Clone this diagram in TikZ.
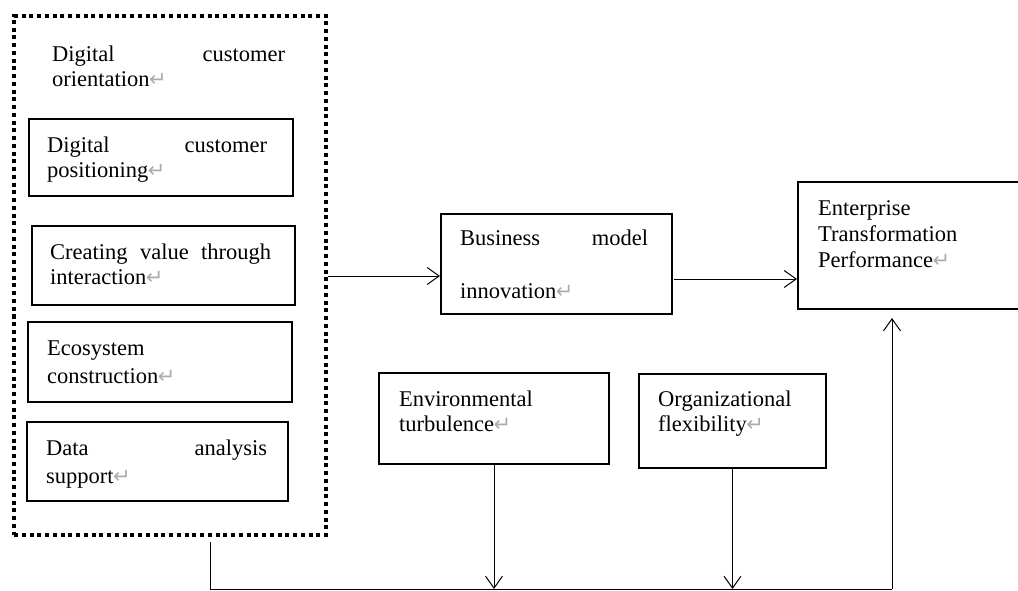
\documentclass[tikz,border=0pt]{standalone}
\usepackage{fontspec}
\setmainfont{Liberation Serif}
\newfontfamily\symfnt{DejaVu Sans}
\usetikzlibrary{arrows.meta,positioning,calc}
\newcommand\retmark{{\symfnt\fontsize{21}{21}\selectfont\color{gray!65}\kern-0.5pt↵}}
\newcommand\twoline[3][25pt]{\vtop{\baselineskip=#1\lineskiplimit=-10pt\hbox{#2}\hbox{#3}}}
\begin{document}
\begin{tikzpicture}[x=1pt,y=-1pt,
  box/.style={draw,line width=2pt,rectangle,inner sep=0pt,anchor=north west},
  lbl/.style={inner sep=0pt,anchor=base west,font=\fontsize{22.5}{25}\selectfont},
  conn/.style={line width=1pt},
  arr/.style={line width=1pt,-{Straight Barb[length=12pt,width=17pt,line width=1pt]}}]
\useasboundingbox (0,0) rectangle (1018,591);
% dotted outer box
\node[draw,line width=4pt,dash pattern=on 4pt off 3.75pt,rectangle,inner sep=0pt,anchor=north west,
  minimum width=312pt,minimum height=519pt] (dot) at (12,14) {};
\node[lbl] (t0) at (52,62) {\twoline{\hbox to 233pt{Digital\hfill customer}}{orientation\retmark}};
% inner boxes
\node[box,minimum width=264pt,minimum height=77pt] (b1) at (28,118) {};
\node[lbl] (t1) at (47,153) {\twoline{\hbox to 220pt{Digital\hfill customer}}{positioning\retmark}};
\node[box,minimum width=263pt,minimum height=79pt] (b2) at (31,225) {};
\node[lbl] (t2) at (50,259) {\twoline{\hbox to 221pt{Creating\hfill value\hfill through}}{interaction\retmark}};
\node[box,minimum width=264pt,minimum height=80pt] (b3) at (27,321) {};
\node[lbl] (t3) at (47,355) {\twoline[28pt]{Ecosystem}{construction\retmark}};
\node[box,minimum width=261pt,minimum height=79pt] (b4) at (26,421) {};
\node[lbl] (t4) at (46,455) {\twoline[28pt]{\hbox to 221pt{Data\hfill analysis}}{support\retmark}};
% business model innovation
\node[box,minimum width=231pt,minimum height=100pt] (biz) at (440,213) {};
\node[lbl] (tb) at (460,245) {\twoline[53pt]{\hbox to 188pt{Business\hfill model}}{innovation\retmark}};
% enterprise
\node[box,minimum width=240pt,minimum height=127pt] (ent) at (797,181) {};
\node[lbl] (te) at (818,215) {\vtop{\baselineskip=26pt\lineskiplimit=-10pt\hbox{Enterprise}\hbox{Transformation}\hbox{Performance\retmark}}};
% moderators
\node[box,minimum width=230pt,minimum height=91pt] (env) at (378,372) {};
\node[lbl] (tv) at (399,406) {\twoline{Environmental}{turbulence\retmark}};
\node[box,minimum width=187pt,minimum height=94pt] (org) at (638,373) {};
\node[lbl] (to) at (658,406) {\twoline{Organizational}{flexibility\retmark}};
% connectors
\coordinate (y1) at (0,276);
\coordinate (y2) at (0,279);
\coordinate (bl) at (210,589);
\coordinate (br) at (892,589);
\coordinate (s0) at (210,542);
\coordinate (e0) at (892,318);
\coordinate (bs) at (674,279);
\draw[arr] (dot.east |- y1) -- (biz.west |- y1);
\draw[arr] (bs) -- (ent.west |- y2);
\draw[conn] (s0) -- (bl) -- (br);
\draw[arr] (br) -- (e0);
\draw[arr] (env.south) -- (env.south |- bl);
\draw[arr] (org.south) -- (org.south |- bl);
\end{tikzpicture}
\end{document}
